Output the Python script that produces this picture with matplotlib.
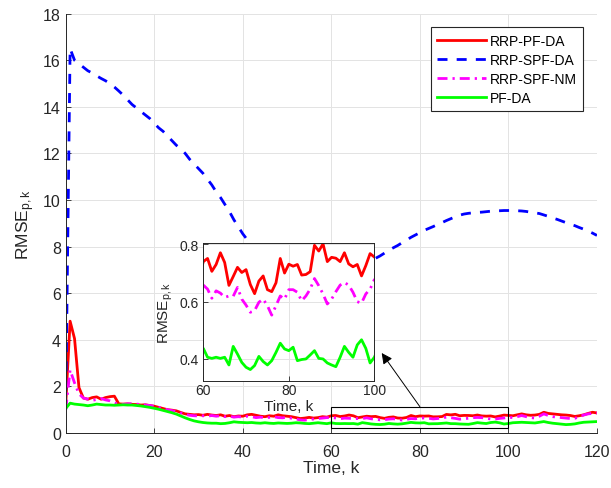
import numpy as np
import matplotlib
matplotlib.use('Agg')
import matplotlib.pyplot as plt
from matplotlib.patches import Rectangle, ConnectionPatch

plt.rcParams['font.family'] = ['Liberation Sans', 'DejaVu Sans']
plt.rcParams['mathtext.fontset'] = 'custom'
plt.rcParams['mathtext.rm'] = 'Liberation Sans'
plt.rcParams['mathtext.it'] = 'Liberation Sans:italic'

# Данные (k = 0..120)
k = np.arange(0, 121)

rrp_spf_da = [
    1.0, 16.5, 16.0, 15.85, 15.7, 15.55, 15.45, 15.33, 15.22, 15.12,
    15.0, 14.85, 14.68, 14.5, 14.3, 14.1, 13.95, 13.8, 13.65, 13.5,
    13.3, 13.1, 12.95, 12.75, 12.55, 12.35, 12.2, 12.0, 11.75, 11.55,
    11.35, 11.15, 10.9, 10.65, 10.35, 10.1, 9.8, 9.5, 9.15, 8.85,
    8.55, 8.3, 8.1, 7.9, 7.75, 7.6, 7.45, 7.35, 7.25, 7.15,
    7.1, 7.05, 7.0, 6.95, 6.92, 6.9, 6.88, 6.88, 6.88, 6.9,
    6.92, 6.95, 6.97, 7.0, 7.05, 7.1, 7.15, 7.22, 7.3, 7.4,
    7.5, 7.6, 7.72, 7.84, 7.95, 8.05, 8.17, 8.28, 8.4, 8.5,
    8.6, 8.7, 8.78, 8.86, 8.95, 9.03, 9.12, 9.2, 9.28, 9.35,
    9.4, 9.43, 9.45, 9.47, 9.48, 9.5, 9.52, 9.53, 9.54, 9.55,
    9.55, 9.55, 9.54, 9.53, 9.51, 9.48, 9.45, 9.42, 9.36, 9.3,
    9.23, 9.17, 9.1, 9.03, 8.96, 8.9, 8.82, 8.75, 8.67, 8.58,
    8.48]

rrp_pf_da = [
    1.2, 4.8, 4.05, 1.95, 1.5, 1.45, 1.52, 1.55, 1.45, 1.52,
    1.56, 1.58, 1.25, 1.24, 1.25, 1.23, 1.22, 1.2, 1.21, 1.18,
    1.15, 1.1, 1.05, 1.0, 0.98, 0.95, 0.88, 0.82, 0.8, 0.78,
    0.79, 0.76, 0.8, 0.77, 0.75, 0.78, 0.72, 0.75, 0.7, 0.73,
    0.72, 0.78, 0.8, 0.76, 0.72, 0.7, 0.74, 0.72, 0.78, 0.74,
    0.72, 0.7, 0.66, 0.62, 0.64, 0.67, 0.64, 0.66, 0.7, 0.68,
    0.74, 0.751, 0.706, 0.73, 0.771, 0.737, 0.657, 0.688, 0.72, 0.702,
    0.712, 0.66, 0.628, 0.672, 0.69, 0.642, 0.635, 0.666, 0.751, 0.70,
    0.731, 0.724, 0.73, 0.693, 0.695, 0.705, 0.797, 0.777, 0.802, 0.74,
    0.755, 0.752, 0.74, 0.771, 0.732, 0.722, 0.73, 0.69, 0.726, 0.768,
    0.756, 0.74, 0.78, 0.82, 0.78, 0.76, 0.77, 0.8, 0.89, 0.84,
    0.82, 0.8, 0.78, 0.77, 0.75, 0.71, 0.74, 0.78, 0.84, 0.89,
    0.86]

rrp_spf_nm = [
    1.0, 2.7, 2.15, 1.68, 1.5, 1.45, 1.4, 1.44, 1.48, 1.42,
    1.38, 1.3, 1.22, 1.23, 1.25, 1.26, 1.24, 1.22, 1.2, 1.18,
    1.15, 1.1, 1.05, 1.0, 0.96, 0.92, 0.86, 0.8, 0.76, 0.74,
    0.73, 0.74, 0.72, 0.75, 0.72, 0.74, 0.7, 0.72, 0.68, 0.7,
    0.68, 0.72, 0.7, 0.66, 0.68, 0.65, 0.67, 0.7, 0.66, 0.65,
    0.68, 0.63, 0.6, 0.56, 0.55, 0.58, 0.6, 0.62, 0.64, 0.66,
    0.658, 0.644, 0.612, 0.638, 0.63, 0.615, 0.62, 0.619, 0.65, 0.609,
    0.588, 0.563, 0.569, 0.598, 0.609, 0.586, 0.553, 0.586, 0.62, 0.609,
    0.642, 0.642, 0.633, 0.603, 0.62, 0.644, 0.681, 0.656, 0.627, 0.592,
    0.609, 0.635, 0.658, 0.667, 0.658, 0.633, 0.60, 0.595, 0.627, 0.644,
    0.677, 0.66, 0.7, 0.75, 0.7, 0.66, 0.64, 0.72, 0.82, 0.75,
    0.7, 0.68, 0.66, 0.64, 0.62, 0.63, 0.7, 0.77, 0.82, 0.84,
    0.86]

pf_da = [
    1.05, 1.28, 1.24, 1.22, 1.2, 1.17, 1.2, 1.24, 1.22, 1.2,
    1.2, 1.19, 1.2, 1.21, 1.2, 1.2, 1.18, 1.16, 1.13, 1.1,
    1.06, 1.02, 0.97, 0.92, 0.87, 0.81, 0.73, 0.65, 0.58, 0.52,
    0.48, 0.45, 0.43, 0.42, 0.42, 0.4, 0.41, 0.44, 0.48, 0.46,
    0.45, 0.44, 0.45, 0.43, 0.42, 0.44, 0.42, 0.41, 0.43, 0.42,
    0.41, 0.42, 0.44, 0.43, 0.41, 0.4, 0.42, 0.44, 0.42, 0.4,
    0.437, 0.406, 0.402, 0.406, 0.402, 0.406, 0.379, 0.444, 0.417, 0.388,
    0.371, 0.363, 0.377, 0.409, 0.391, 0.379, 0.394, 0.423, 0.455, 0.435,
    0.429, 0.441, 0.394, 0.398, 0.40, 0.414, 0.429, 0.402, 0.40, 0.386,
    0.379, 0.373, 0.406, 0.444, 0.423, 0.406, 0.449, 0.467, 0.437, 0.386,
    0.406, 0.44, 0.45, 0.46, 0.45, 0.44, 0.43, 0.46, 0.49, 0.45,
    0.42, 0.4, 0.38, 0.36, 0.37, 0.39, 0.43, 0.46, 0.47, 0.48,
    0.49]

labels = ['RRP-PF-DA', 'RRP-SPF-DA', 'RRP-SPF-NM', 'PF-DA']

dark = '#262626'
grid_c = '#e3e3e3'


def style_axes(ax, size):
    ax.grid(True, color=grid_c, lw=0.7)
    ax.set_axisbelow(True)
    ax.tick_params(direction='in', length=3.5, width=0.6, colors=dark,
                   labelsize=size, labelcolor=dark)
    for s in ax.spines.values():
        s.set_color(dark)
        s.set_linewidth(0.7)


def plot_series(ax, lw=2.0):
    ax.plot(k, rrp_pf_da, color='red', lw=lw, label=labels[0])
    ax.plot(k, rrp_spf_da, color='blue', lw=lw, dashes=(3.6, 3.3), label=labels[1])
    ax.plot(k, rrp_spf_nm, color='magenta', lw=lw, dashes=(3.6, 1.8, 0.8, 1.8),
            label=labels[2])
    ax.plot(k, pf_da, color='#00ff00', lw=lw, label=labels[3])


fig = plt.figure(figsize=(6.11, 4.89), dpi=100)

# Основные оси
ax = fig.add_axes([0.1075, 0.1125, 0.8695, 0.8575])
plot_series(ax)
ax.set_xlim(0, 120)
ax.set_ylim(0, 18)
ax.set_xticks(range(0, 121, 20))
ax.set_yticks(range(0, 19, 2))
style_axes(ax, 11.5)
ax.tick_params(axis='x', pad=8)
ax.spines['top'].set_visible(False)
ax.spines['right'].set_visible(False)
ax.set_xlabel('Time, k', fontsize=12.5, color=dark, labelpad=1)
ax.set_ylabel('RMSE$_{\\rm p,k}$', fontsize=12.5, color=dark, labelpad=4)

leg = ax.legend(loc='upper right', bbox_to_anchor=(0.9737, 0.9676), borderaxespad=0,
                fontsize=10, handlelength=3.5, handletextpad=0.3, labelspacing=0.37,
                borderpad=0.45, fancybox=False, framealpha=1)
leg.get_frame().set_edgecolor(dark)
leg.get_frame().set_linewidth(0.8)

# Прямоугольник увеличиваемой области
ax.add_patch(Rectangle((60, 0.2), 40, 0.93, fill=False, ec='black', lw=0.8, zorder=5))

# Вставка
axin = fig.add_axes([0.3327, 0.2194, 0.28, 0.2816])
axin.set_facecolor('white')
plot_series(axin)
axin.set_xlim(60, 100)
axin.set_ylim(0.324, 0.805)
axin.set_xticks([60, 80, 100])
axin.set_yticks([0.4, 0.6, 0.8])
style_axes(axin, 10)
axin.tick_params(axis='x', pad=2)
axin.set_xlabel('Time, k', fontsize=11, color=dark, labelpad=1)
axin.set_ylabel('RMSE$_{\\rm p,k}$', fontsize=11, color=dark, labelpad=3)

# Стрелка от области к вставке
arrow = ConnectionPatch(xyA=(80, 1.13), coordsA=ax.transData,
                        xyB=(381.7 / 611, 1 - 354 / 489), coordsB='figure fraction',
                        arrowstyle='-|>', color='black', lw=0.7, mutation_scale=16)
fig.add_artist(arrow)

fig.savefig('out.png', dpi=100)
